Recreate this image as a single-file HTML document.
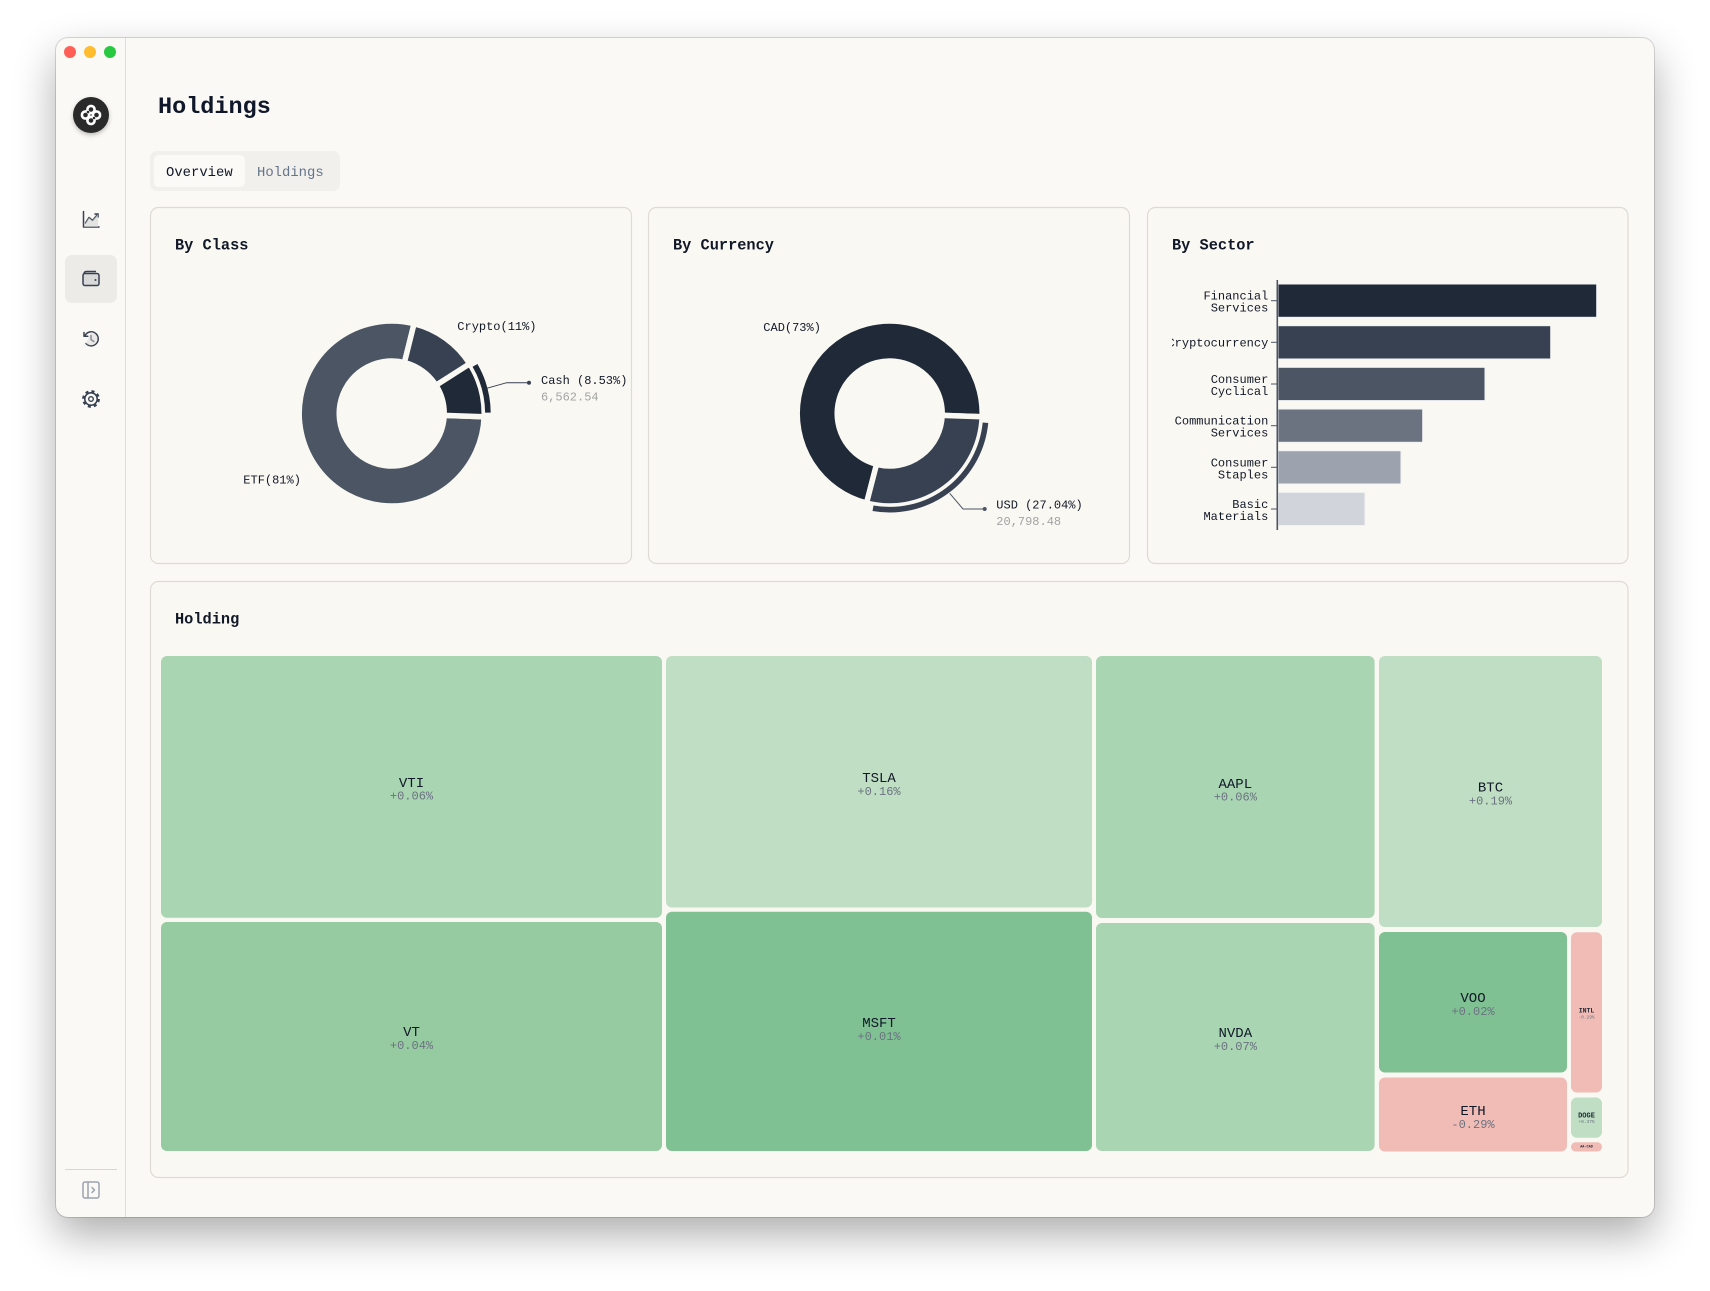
<!DOCTYPE html>
<html><head><meta charset="utf-8"><style>
html,body{margin:0;padding:0;background:#ffffff;}
body{width:1710px;height:1291px;position:relative;overflow:hidden;}
.win{position:absolute;left:56px;top:38px;width:1598px;height:1179px;border-radius:12px;background:#fbf9f5;box-shadow:0 18px 42px rgba(0,0,0,0.32),0 0 0 1px rgba(0,0,0,0.14);}
svg{position:absolute;left:0;top:0;}
text{font-family:"Liberation Mono",monospace;}
</style></head><body>
<div class="win"></div>
<svg width="1710" height="1291" viewBox="0 0 1710 1291" xmlns="http://www.w3.org/2000/svg">
<defs>
<clipPath id="secclip"><rect x="1172" y="250" width="440" height="300"/></clipPath>
<filter id="lsh" x="-50%" y="-50%" width="200%" height="200%"><feDropShadow dx="0" dy="2" stdDeviation="2" flood-color="#000" flood-opacity="0.25"/></filter>
</defs>
<!-- traffic lights -->
<circle cx="70" cy="52" r="6" fill="#ff5f57"/>
<circle cx="90" cy="52" r="6" fill="#febc2e"/>
<circle cx="110" cy="52" r="6" fill="#28c840"/>
<!-- sidebar divider -->
<line x1="125.5" y1="38" x2="125.5" y2="1217" stroke="#e1ded9" stroke-width="1"/>
<!-- logo -->
<circle cx="91" cy="115" r="18" fill="#2b2b2b" filter="url(#lsh)"/>
<g fill="none" stroke="#ffffff" stroke-width="2.6">
<circle cx="91" cy="109.5" r="3.6"/><circle cx="91" cy="120.5" r="3.6"/>
<circle cx="85.5" cy="115" r="3.6"/><circle cx="96.5" cy="115" r="3.6"/>
</g>
<g fill="#2b2b2b"><circle cx="88" cy="112" r="1.3"/><circle cx="94" cy="118" r="1.3"/></g>
<!-- sidebar icons -->
<g fill="none" stroke="#374151" stroke-width="1.5" stroke-linecap="round" stroke-linejoin="round">
<path d="M83.5 211.5 V227 H99"/>
<path d="M85.5 223 L89 217.5 L92.5 220.5 L98 214" />
<path d="M95 214 H98 V217"/>
</g>
<path d="M85.5 223 L89 217.5 L92.5 220.5 L98 214 V227 H84 Z" fill="#d6d6d6" opacity="0.6"/>
<rect x="65" y="255" width="52" height="48" rx="7" fill="#ecebe8"/>
<g fill="none" stroke="#374151" stroke-width="1.5" stroke-linejoin="round">
<rect x="83" y="273.5" width="16" height="12" rx="2" fill="#d9d9d9"/>
<path d="M84 274 Q84 271.5 86.5 271.5 H96"/>
</g>
<circle cx="95.5" cy="280" r="1" fill="#374151"/>
<g fill="none" stroke="#374151" stroke-width="1.5" stroke-linecap="round" stroke-linejoin="round">
<path d="M84.8 336 A7 7 0 1 1 86 343.5"/>
<path d="M84 332.5 V336.3 H87.8"/>
<path d="M91 335.5 V339.5 L93.8 341.5"/>
</g>
<path d="M86 343.5 A7 7 0 0 0 97.5 340 A7 7 0 0 0 91 332 Z" fill="#d9d9d9" opacity="0.5"/>
<g fill="none" stroke="#374151">
<circle cx="91" cy="399" r="6.2" stroke-width="1.6"/>
<circle cx="91" cy="399" r="7.6" stroke-width="2.6" stroke-dasharray="3 3"/>
<circle cx="91" cy="399" r="2.3" stroke-width="1.4"/>
</g>
<!-- sidebar bottom -->
<line x1="65" y1="1169.5" x2="117" y2="1169.5" stroke="#d9d6d1" stroke-width="1"/>
<g fill="none" stroke="#9ca3af" stroke-width="1.5" stroke-linejoin="round" stroke-linecap="round">
<rect x="83" y="1182" width="16" height="16" rx="2"/>
<line x1="88" y1="1182.5" x2="88" y2="1197.5"/>
<path d="M92 1187.5 L94.5 1190 L92 1192.5"/>
</g>
<!-- header -->
<text x="158" y="113" font-size="23.5" font-weight="bold" fill="#0f172a">Holdings</text>
<rect x="150" y="151" width="190" height="40" rx="7" fill="#f2f0ec"/>
<rect x="154" y="155" width="91" height="32" rx="5" fill="#fbfaf7"/>
<text x="166" y="176" font-size="13.9" fill="#111827">Overview</text>
<text x="257" y="176" font-size="13.9" fill="#64748b">Holdings</text>

<!-- cards -->
<g fill="#faf8f3" stroke="#dedbd5" stroke-width="1.2">
<rect x="150.5" y="207.5" width="481" height="356" rx="8"/>
<rect x="648.5" y="207.5" width="481" height="356" rx="8"/>
<rect x="1147.5" y="207.5" width="480.5" height="356" rx="8"/>
<rect x="150.5" y="581.5" width="1477.5" height="596" rx="8"/>
</g>
<g font-size="15.3" font-weight="bold" fill="#111827">
<text x="175" y="249.5">By Class</text>
<text x="673" y="249.5">By Currency</text>
<text x="1172" y="249.5">By Sector</text>
<text x="175" y="623.5">Holding</text>
</g>

<!-- By Class donut -->
<g stroke="#faf8f3" stroke-width="5.5" stroke-linejoin="miter">
<path d="M414.08 323.75 A92.5 92.5 0 1 0 484.14 416.73 L444.17 415.33 A52.5 52.5 0 1 1 404.40 362.56 Z" fill="#4b5563"/>
<path d="M469.71 363.80 A92.5 92.5 0 0 0 414.08 323.75 L404.40 362.56 A52.5 52.5 0 0 1 435.98 385.29 Z" fill="#374151"/>
<path d="M484.14 416.73 A92.5 92.5 0 0 0 469.71 363.80 L435.98 385.29 A52.5 52.5 0 0 1 444.17 415.33 Z" fill="#1f2937"/>
</g>
<path d="M487.9 412.66 A96.2 96.2 0 0 0 475.01 365.4" fill="none" stroke="#1f2937" stroke-width="5.6"/>
<polyline points="486.7,388.3 506.7,382.7 529,382.7" fill="none" stroke="#374151" stroke-width="1"/>
<circle cx="529" cy="382.7" r="2" fill="#374151"/>
<g font-size="12" fill="#111827">
<text x="457.3" y="330">Crypto(11%)</text>
<text x="541" y="384.2">Cash (8.53%)</text>
<text x="243.3" y="483.6">ETF(81%)</text>
<text x="763.3" y="331">CAD(73%)</text>
<text x="996.3" y="508.6">USD (27.04%)</text>
</g>
<g font-size="12" fill="#a3a3a3">
<text x="541" y="400.3">6,562.54</text>
<text x="996.3" y="525">20,798.48</text>
</g>

<!-- By Currency donut -->
<g stroke="#faf8f3" stroke-width="5.5" stroke-linejoin="miter">
<path d="M982.14 416.73 A92.5 92.5 0 1 0 866.54 503.05 L876.56 464.33 A52.5 52.5 0 1 1 942.17 415.33 Z" fill="#1f2937"/>
<path d="M866.54 503.05 A92.5 92.5 0 0 0 982.14 416.73 L942.17 415.33 A52.5 52.5 0 0 1 876.56 464.33 Z" fill="#374151"/>
</g>
<path d="M873.0 508.24 A96.2 96.2 0 0 0 985.46 422.72" fill="none" stroke="#374151" stroke-width="5.6"/>
<polyline points="949.7,493.3 963,509 984.7,509" fill="none" stroke="#4b5563" stroke-width="1"/>
<circle cx="984.7" cy="509" r="2" fill="#4b5563"/>

<!-- By Sector bars -->
<g stroke="#f3f4f6" stroke-width="1">
<rect x="1278" y="284" width="318.7" height="33.3" fill="#1f2937"/>
<rect x="1278" y="325.7" width="272.7" height="33.3" fill="#374151"/>
<rect x="1278" y="367.3" width="207" height="33.3" fill="#4b5563"/>
<rect x="1278" y="409" width="144.7" height="33.3" fill="#6b7280"/>
<rect x="1278" y="450.7" width="123" height="33.3" fill="#9ca3af"/>
<rect x="1278" y="492.3" width="87" height="33.3" fill="#d1d5db"/>
</g>
<line x1="1277.3" y1="280" x2="1277.3" y2="530" stroke="#4b5563" stroke-width="1.6"/>
<g stroke="#4b5563" stroke-width="1">
<line x1="1271" y1="300.7" x2="1277" y2="300.7"/>
<line x1="1271" y1="342.3" x2="1277" y2="342.3"/>
<line x1="1271" y1="384" x2="1277" y2="384"/>
<line x1="1271" y1="425.7" x2="1277" y2="425.7"/>
<line x1="1271" y1="467.3" x2="1277" y2="467.3"/>
<line x1="1271" y1="509" x2="1277" y2="509"/>
</g>
<g font-size="12" fill="#111827" text-anchor="end" clip-path="url(#secclip)">
<text x="1268.3" y="299.7">Financial</text>
<text x="1268.3" y="311.7">Services</text>
<text x="1268.3" y="346.5">Cryptocurrency</text>
<text x="1268.3" y="383">Consumer</text>
<text x="1268.3" y="395">Cyclical</text>
<text x="1268.3" y="424.7">Communication</text>
<text x="1268.3" y="436.7">Services</text>
<text x="1268.3" y="466.3">Consumer</text>
<text x="1268.3" y="478.3">Staples</text>
<text x="1268.3" y="508">Basic</text>
<text x="1268.3" y="520">Materials</text>
</g>

<!-- Treemap -->
<rect x="161" y="656" width="501" height="261.7" rx="6" fill="#a9d5b3"/>
<rect x="161" y="922" width="501" height="229" rx="6" fill="#96cba1"/>
<rect x="666" y="656" width="426" height="251.5" rx="6" fill="#bfdec4"/>
<rect x="666" y="911.7" width="426" height="239.3" rx="6" fill="#80c193"/>
<rect x="1096" y="656" width="278.6" height="262" rx="6" fill="#a9d5b3"/>
<rect x="1096" y="923" width="278.6" height="228" rx="6" fill="#a9d5b3"/>
<rect x="1379" y="656" width="223" height="271" rx="6" fill="#bfdec4"/>
<rect x="1379" y="932" width="188" height="140.5" rx="6" fill="#80c193"/>
<rect x="1379" y="1077.5" width="188" height="74" rx="6" fill="#f0bcb5"/>
<rect x="1571" y="932.3" width="31" height="160.2" rx="6" fill="#f0bcb5"/>
<rect x="1571" y="1097.5" width="31" height="40.2" rx="6" fill="#bfdec4"/>
<rect x="1571" y="1142.3" width="31" height="9.2" rx="4.5" fill="#f0bcb5"/>

<g font-size="14" fill="#111827" text-anchor="middle">
<text x="411.5" y="787">VTI</text>
<text x="411.5" y="1036">VT</text>
<text x="879" y="782">TSLA</text>
<text x="879" y="1027">MSFT</text>
<text x="1235.3" y="788">AAPL</text>
<text x="1235.3" y="1037">NVDA</text>
<text x="1490.5" y="791.5">BTC</text>
<text x="1473" y="1002">VOO</text>
<text x="1473" y="1115">ETH</text>
</g>
<g font-size="12" fill="#6b7280" text-anchor="middle">
<text x="411.5" y="799.7">+0.06%</text>
<text x="411.5" y="1049">+0.04%</text>
<text x="879" y="795">+0.16%</text>
<text x="879" y="1040">+0.01%</text>
<text x="1235.3" y="800.7">+0.06%</text>
<text x="1235.3" y="1050">+0.07%</text>
<text x="1490.5" y="804.7">+0.19%</text>
<text x="1473" y="1015">+0.02%</text>
<text x="1473" y="1128">-0.29%</text>
</g>
<g text-anchor="middle" fill="#1f2937" font-weight="bold">
<text x="1586.5" y="1012.5" font-size="6.5">INTL</text>
<text x="1586.5" y="1117.5" font-size="7">DOGE</text>
<text x="1586.5" y="1147.5" font-size="3.5">AA-CAD</text>
</g>
<g text-anchor="middle" fill="#6b7280">
<text x="1586.5" y="1018.5" font-size="4.5">-0.29%</text>
<text x="1586.5" y="1123" font-size="4.5">+0.37%</text>
</g>
</svg>
</body></html>
